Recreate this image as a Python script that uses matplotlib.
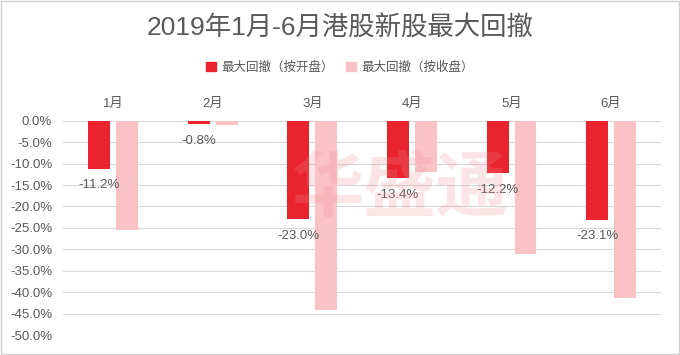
import matplotlib
matplotlib.use("Agg")
import matplotlib.pyplot as plt
from matplotlib.patches import Rectangle
import numpy as np

plt.rcParams['font.family'] = ['Liberation Sans', 'Noto Sans CJK SC', 'DejaVu Sans']

# data
months = ["1月", "2月", "3月", "4月", "5月", "6月"]
open_dd = [-11.2, -0.8, -23.0, -13.4, -12.2, -23.1]     # 按开盘
close_dd = [-25.6, -1.1, -44.1, -11.9, -31.1, -41.3]    # 按收盘
series_names = ["最大回撤（按开盘）", "最大回撤（按收盘）"]
yticks = [0, -5, -10, -15, -20, -25, -30, -35, -40, -45, -50]

red = "#E9242F"
pink = "#F9C3C6"
grey = "#595959"

fig = plt.figure(figsize=(6.8, 3.55), dpi=100)
fig.patches.append(Rectangle((0.001, 0.002), 0.997, 0.995, transform=fig.transFigure,
                             fill=False, edgecolor="#d0d0d0", linewidth=1))

ax = fig.add_axes([0.093, 0.056, 0.879, 0.604])
x = np.arange(len(months))
w = 0.22
ax.bar(x - 0.14, open_dd, w, color=red, zorder=2)
ax.bar(x + 0.14, close_dd, w, color=pink, zorder=2)

for xi, v in zip(x, open_dd):
    ax.annotate(f"{v:.1f}%", (xi - 0.14, v), xytext=(0, -12), textcoords="offset points",
                ha="center", va="center", fontsize=9.5, color=grey, zorder=3)

# watermark
ax.text(2.88, -16.0, "华盛通", fontsize=52, color="#f08a90", alpha=0.22,
        ha="center", va="center", style="italic", fontweight="bold", zorder=4,
        family=['Noto Sans CJK SC'])

ax.set_xlim(-0.5, 5.5)
ax.set_ylim(-50, 0)
ax.set_yticks(yticks)
ax.set_yticklabels([f"{t:.1f}%" for t in yticks], fontsize=9.5, color=grey)
ax.set_xticks(x)
ax.set_xticklabels(months, fontsize=9.5, color=grey)
ax.xaxis.tick_top()
ax.tick_params(length=0, axis="both")
ax.tick_params(axis="x", pad=8)
ax.tick_params(axis="y", pad=8)
ax.yaxis.grid(True, color="#d9d9d9", linewidth=0.8, zorder=0)
ax.set_axisbelow(True)
for s in ax.spines.values():
    s.set_visible(False)

fig.text(0.5, 0.92, "2019年1月-6月港股新股最大回撤", ha="center", va="center",
         fontsize=19, color=grey)

handles = [Rectangle((0, 0), 1, 1, color=red), Rectangle((0, 0), 1, 1, color=pink)]
fig.legend(handles, series_names, loc="center", bbox_to_anchor=(0.5, 0.81), ncol=2,
           frameon=False, fontsize=9, handlelength=0.8, handleheight=0.8,
           handletextpad=0.4, columnspacing=1.0, labelcolor=grey)

fig.savefig("out.png", dpi=100, facecolor="white")
